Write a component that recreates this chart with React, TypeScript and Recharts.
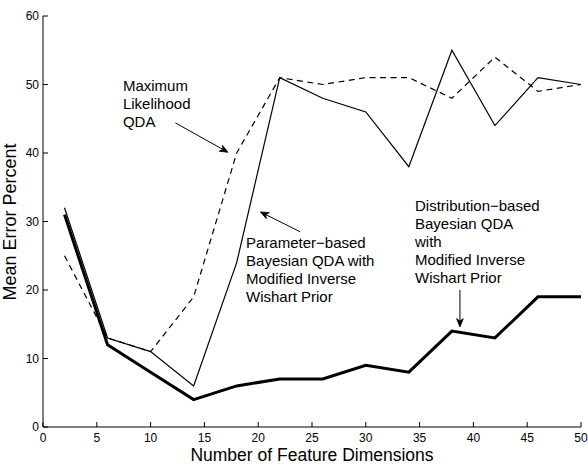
import React from 'react';
import { LineChart, Line, XAxis, YAxis, ReferenceLine, ReferenceDot, Label } from 'recharts';

// feature dimensions on x, mean error percent on y
const dims = [2, 6, 10, 14, 18, 22, 26, 30, 34, 38, 42, 46, 50];
const mlQda = [25, 13, 11, 19, 40, 51, 50, 51, 51, 48, 54, 49, 50];
const paramBayes = [32, 13, 11, 6, 24, 51, 48, 46, 38, 55, 44, 51, 50];
const distBayes = [31, 12, 8, 4, 6, 7, 7, 9, 8, 14, 13, 19, 19];
const xTicks = [0, 5, 10, 15, 20, 25, 30, 35, 40, 45, 50];
const yTicks = [0, 10, 20, 30, 40, 50, 60];

const mlText = ['Maximum', 'Likelihood', 'QDA'];
const paramText = ['Parameter\u2212based', 'Bayesian QDA with', 'Modified Inverse', 'Wishart Prior'];
const distText = ['Distribution\u2212based', 'Bayesian QDA', 'with', 'Modified Inverse', 'Wishart Prior'];

const data = dims.map((d, i) => ({ dim: d, ml: mlQda[i], param: paramBayes[i], dist: distBayes[i] }));

const FONT = '"Liberation Sans", Arial, sans-serif';

const BottomTick = (p: any) => (
  <g>
    <line x1={p.x} y1={p.y} x2={p.x} y2={p.y - 5} stroke="#000" />
    <text x={p.x} y={p.y + 15} textAnchor="middle" fontSize={12} fill="#000">{p.payload.value}</text>
  </g>
);
const LeftTick = (p: any) => (
  <g>
    <line x1={p.x} y1={p.y} x2={p.x + 5} y2={p.y} stroke="#000" />
    <text x={p.x - 4} y={p.y + 4.3} textAnchor="end" fontSize={12} fill="#000">{p.payload.value}</text>
  </g>
);
const TopTick = (p: any) => <line x1={p.x} y1={p.y} x2={p.x} y2={p.y + 5} stroke="#000" />;
const RightTick = (p: any) => <line x1={p.x} y1={p.y} x2={p.x - 5} y2={p.y} stroke="#000" />;

// matlab-style filled arrowhead at the segment's end point
const Arrow = (p: any) => {
  const { x1, y1, x2, y2 } = p;
  const a = Math.atan2(y2 - y1, x2 - x1);
  const len = 9;
  const spread = 0.38;
  const b1x = x2 - len * Math.cos(a - spread);
  const b1y = y2 - len * Math.sin(a - spread);
  const b2x = x2 - len * Math.cos(a + spread);
  const b2y = y2 - len * Math.sin(a + spread);
  const nx = x2 - 6 * Math.cos(a);
  const ny = y2 - 6 * Math.sin(a);
  return (
    <g>
      <line x1={x1} y1={y1} x2={nx} y2={ny} stroke="#000" strokeWidth={1} />
      <polygon points={`${x2},${y2} ${b1x},${b1y} ${nx},${ny} ${b2x},${b2y}`} fill="#000" stroke="#000" strokeWidth={0.8} />
    </g>
  );
};

const textBlock = (lines: string[]) => (p: any) => (
  <text x={p.cx} y={p.cy} fontSize={15} fill="#000">
    {lines.map((l, i) => (
      <tspan key={i} x={p.cx} dy={i === 0 ? 0 : 18}>{l}</tspan>
    ))}
  </text>
);

export default function App() {
  return (
    <div style={{ position: 'absolute', left: 0, top: 0, background: '#fff' }}>
      <LineChart
        width={588}
        height={464}
        data={data}
        margin={{ top: 16, right: 7, bottom: 0, left: 0 }}
        style={{ fontFamily: FONT }}
      >
        <XAxis
          dataKey="dim"
          type="number"
          domain={[0, 50]}
          ticks={xTicks}
          height={37}
          tickSize={0}
          tickMargin={0}
          tickLine={false}
          axisLine={{ stroke: '#000' }}
          tick={BottomTick}
          interval={0}
        >
          <Label
            content={() => (
              <text x={312} y={460.5} textAnchor="middle" fontSize={17.5} fill="#000" fontFamily={FONT}>
                Number of Feature Dimensions
              </text>
            )}
          />
        </XAxis>
        <XAxis
          xAxisId="top"
          orientation="top"
          dataKey="dim"
          type="number"
          domain={[0, 50]}
          ticks={xTicks}
          height={0}
          tickSize={0}
          tickMargin={0}
          tickLine={false}
          axisLine={{ stroke: '#000' }}
          tick={TopTick}
          interval={0}
        />
        <YAxis
          type="number"
          domain={[0, 60]}
          ticks={yTicks}
          width={43}
          tickSize={0}
          tickMargin={0}
          tickLine={false}
          axisLine={{ stroke: '#000' }}
          tick={LeftTick}
          interval={0}
        >
          <Label
            content={() => (
              <text
                transform="rotate(-90)"
                x={-222}
                y={15.5}
                textAnchor="middle"
                fontSize={18}
                fill="#000"
                fontFamily={FONT}
              >
                Mean Error Percent
              </text>
            )}
          />
        </YAxis>
        <YAxis
          yAxisId="r"
          orientation="right"
          type="number"
          domain={[0, 60]}
          ticks={yTicks}
          width={0}
          tickSize={0}
          tickMargin={0}
          tickLine={false}
          axisLine={{ stroke: '#000' }}
          tick={RightTick}
          interval={0}
        />

        <Line dataKey="ml" type="linear" stroke="#000" strokeWidth={1.2} strokeDasharray="6 4.5" dot={false} isAnimationActive={false} />
        <Line dataKey="param" type="linear" stroke="#000" strokeWidth={1.2} dot={false} isAnimationActive={false} />
        <Line dataKey="dist" type="linear" stroke="#000" strokeWidth={3} dot={false} isAnimationActive={false} />

        <ReferenceLine segment={[{ x: 12.3, y: 44.4 }, { x: 17.2, y: 40.1 }]} shape={Arrow} />
        <ReferenceLine segment={[{ x: 23.9, y: 28.5 }, { x: 20.2, y: 31.4 }]} shape={Arrow} />
        <ReferenceLine segment={[{ x: 38.75, y: 20 }, { x: 38.75, y: 14.6 }]} shape={Arrow} />

        <ReferenceDot x={7.43} y={49} r={0} shape={textBlock(mlText)} />
        <ReferenceDot x={18.87} y={26.1} r={0} shape={textBlock(paramText)} />
        <ReferenceDot x={34.57} y={31.5} r={0} shape={textBlock(distText)} />
      </LineChart>
    </div>
  );
}
